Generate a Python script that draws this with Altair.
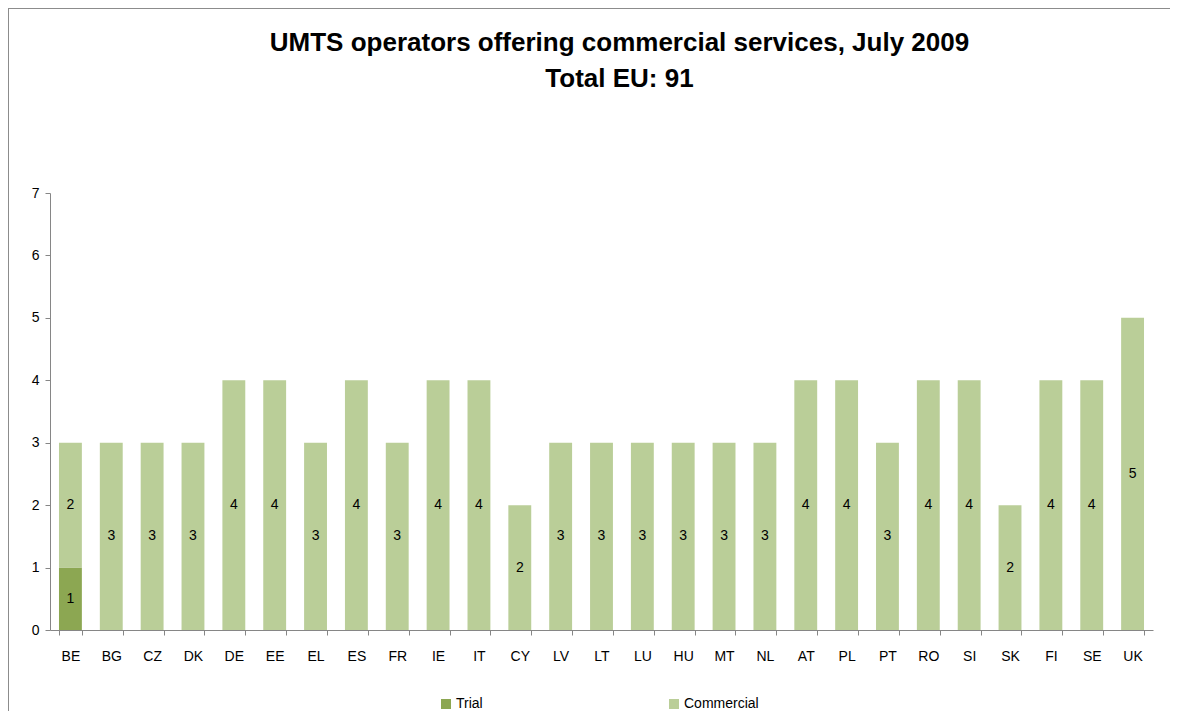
import altair as alt
import pandas as pd

countries = ["BE", "BG", "CZ", "DK", "DE", "EE", "EL", "ES", "FR", "IE", "IT", "CY", "LV", "LT",
             "LU", "HU", "MT", "NL", "AT", "PL", "PT", "RO", "SI", "SK", "FI", "SE", "UK"]
trial = [1, 0, 0, 0, 0, 0, 0, 0, 0, 0, 0, 0, 0, 0, 0, 0, 0, 0, 0, 0, 0, 0, 0, 0, 0, 0, 0]
commercial = [2, 3, 3, 3, 4, 4, 3, 4, 3, 4, 4, 2, 3, 3, 3, 3, 3, 3, 4, 4, 3, 4, 4, 2, 4, 4, 5]
series = ["Trial", "Commercial"]
colors = ["#8CA752", "#BACE98"]
title_lines = ["UMTS operators offering commercial services, July 2009", "Total EU: 91"]

rows = []
for c, t, m in zip(countries, trial, commercial):
    rows.append({"country": c, "type": "Trial", "order": 0, "value": t})
    rows.append({"country": c, "type": "Commercial", "order": 1, "value": m})
df = pd.DataFrame(rows)

FONT = "Liberation Sans Narrow, Liberation Sans, Arial"
FS = 14

base = alt.Chart(df).transform_stack(
    stack="value", groupby=["country"], as_=["v0", "v1"],
    sort=[alt.SortField("order", order="ascending")]
).transform_calculate(mid="(datum.v0 + datum.v1) / 2")

x_enc = alt.X("country:N", sort=countries, title=None,
              scale=alt.Scale(paddingInner=0.44, paddingOuter=0.22),
              axis=alt.Axis(labelAngle=0, tickBand="extent", tickSize=5, labelPadding=14,
                            labelFontSize=FS, labelFont=FONT, labelColor="#000000",
                            domainColor="#868686", tickColor="#868686", grid=False))

bars = base.mark_bar().encode(
    x=x_enc,
    y=alt.Y("v0:Q", title=None, scale=alt.Scale(domain=[0, 7]),
            axis=alt.Axis(values=[0, 1, 2, 3, 4, 5, 6, 7], format="d", tickSize=5, labelPadding=6,
                          labelFontSize=FS, labelFont=FONT, labelColor="#000000",
                          domainColor="#868686", tickColor="#868686", grid=False)),
    y2="v1:Q",
    color=alt.Color("type:N", scale=alt.Scale(domain=series, range=colors), title=None,
                    legend=alt.Legend(orient="none", legendX=389, legendY=504,
                                      direction="horizontal", symbolType="square",
                                      symbolSize=100, symbolStrokeWidth=0,
                                      labelFontSize=FS, labelFont=FONT, labelColor="#000000",
                                      columnPadding=184, labelOffset=3)),
)

labels = base.transform_filter("datum.value > 0").mark_text(
    fontSize=FS, font=FONT, color="#000000", baseline="middle"
).encode(
    x=alt.X("country:N", sort=countries),
    y=alt.Y("mid:Q"),
    text=alt.Text("value:Q"),
)

frame_left = alt.Chart(df).mark_rule(color="#8c8c8c", strokeWidth=1).encode(
    x=alt.value(-41.5), y=alt.value(-184.5), y2=alt.value(530)
)
frame_top = alt.Chart(df).mark_rule(color="#8c8c8c", strokeWidth=1).encode(
    x=alt.value(-41.5), x2=alt.value(1140), y=alt.value(-184.5)
)

chart = alt.layer(bars, labels, frame_left, frame_top).properties(
    width=1103, height=437,
    autosize=alt.AutoSizeParams(type="none"),
    padding={"left": 42, "top": 185, "right": 17, "bottom": 81},
    title=alt.TitleParams(text=title_lines, fontSize=26, font=FONT, fontWeight="bold",
                          anchor="middle", dx=18, offset=-84, lineHeight=36, color="#000000"),
).configure_view(stroke=None)

chart.save("out.html", embed_options={"renderer": "svg", "actions": False})
